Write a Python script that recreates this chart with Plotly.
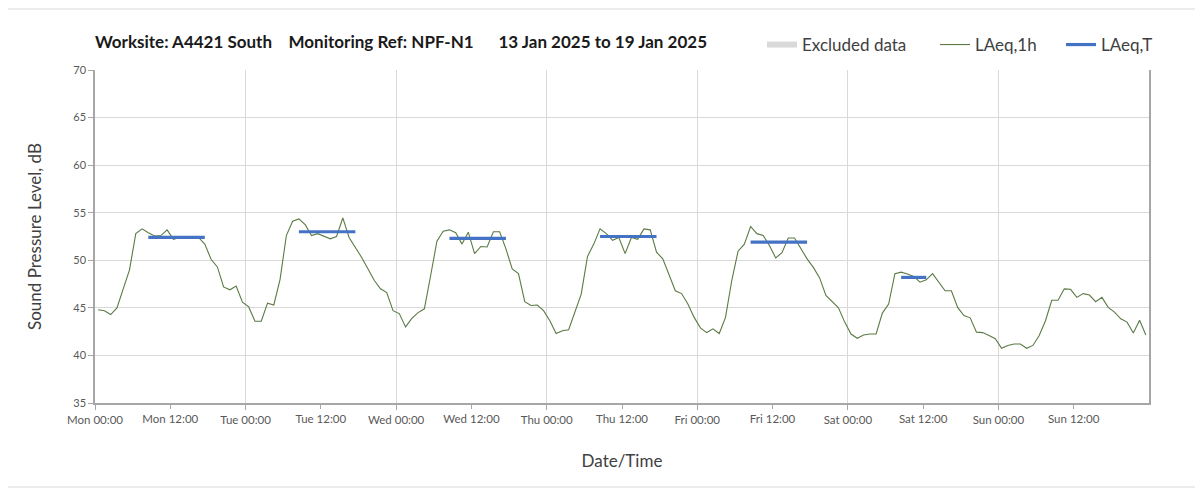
import pandas as pd
import plotly.graph_objects as go

# hourly LAeq,1h values (dB) read per day, Mon 13 Jan to Sun 19 Jan 2025
mon = [44.8, 44.7, 44.3, 45.0, 47.0, 49.0, 52.8, 53.3, 52.9, 52.55, 52.6, 53.2,
       52.2, 52.4, 52.4, 52.4, 52.4, 51.7, 50.1, 49.3, 47.2, 46.9, 47.3, 45.6]
tue = [45.1, 43.6, 43.6, 45.5, 45.3, 48.0, 52.6, 54.1, 54.35, 53.75, 52.6, 52.8,
       52.5, 52.25, 52.5, 54.45, 52.4, 51.4, 50.3, 49.1, 47.9, 47.0, 46.6, 44.7]
wed = [44.4, 43.0, 43.9, 44.5, 44.9, 48.4, 52.0, 53.05, 53.2, 52.9, 51.7, 52.95,
       50.7, 51.45, 51.4, 53.0, 53.0, 51.2, 49.1, 48.6, 45.65, 45.25, 45.3, 44.7]
thu = [43.65, 42.3, 42.6, 42.7, 44.55, 46.45, 50.4, 51.7, 53.3, 52.8, 52.1, 52.4,
       50.7, 52.4, 52.2, 53.3, 53.2, 50.85, 50.15, 48.4, 46.8, 46.5, 45.4, 44.0]
fri = [42.9, 42.4, 42.8, 42.3, 44.0, 47.9, 50.95, 51.7, 53.55, 52.8, 52.6, 51.55,
       50.25, 50.8, 52.35, 52.35, 51.2, 50.15, 49.25, 48.15, 46.3, 45.6, 45.0, 43.5]
sat = [42.25, 41.8, 42.15, 42.25, 42.25, 44.45, 45.4, 48.6, 48.75, 48.55, 48.3, 47.7,
       47.95, 48.6, 47.7, 46.8, 46.8, 45.05, 44.2, 43.95, 42.45, 42.4, 42.1, 41.75]
sun = [40.75, 41.05, 41.2, 41.2, 40.75, 41.05, 42.1, 43.65, 45.8, 45.8, 47.0, 46.95,
       46.1, 46.5, 46.35, 45.65, 46.1, 45.05, 44.55, 43.85, 43.5, 42.35, 43.7, 42.15]

# LAeq,T per day over the measured period (first and last hourly slot of the day)
laeqt_days = ['2025-01-13', '2025-01-14', '2025-01-15', '2025-01-16', '2025-01-17', '2025-01-18']
laeqt_values = [52.4, 53.0, 52.3, 52.5, 51.9, 48.2]
laeqt_first_hour = [8, 8, 8, 8, 8, 8]
laeqt_last_hour = [17, 17, 17, 17, 17, 12]

title_text = ('Worksite: A4421 South\u00a0\u00a0\u00a0\u00a0Monitoring Ref: NPF-N1'
              '\u00a0\u00a0\u00a0\u00a0\u00a0\u00a013 Jan 2025 to 19 Jan 2025')

laeq_1h = mon + tue + wed + thu + fri + sat + sun
# hourly values plotted mid-slot like the category axis of the original
times = pd.date_range('2025-01-13 00:30', periods=len(laeq_1h), freq='h')
day_starts = pd.date_range('2025-01-13', periods=7, freq='D')
noons = day_starts + pd.Timedelta(hours=12)

tx, ty = [], []
for day, val, h0, h1 in zip(laeqt_days, laeqt_values, laeqt_first_hour, laeqt_last_hour):
    d = pd.Timestamp(day)
    tx += [d + pd.Timedelta(hours=h0 + 0.5), d + pd.Timedelta(hours=h1 + 0.5), None]
    ty += [val, val, None]

font = 'Lato, "Open Sans", sans-serif'
grey_txt = '#595959'
OFF = 8  # page body margin
L, T, W, H = 95 - OFF, 70 - OFF, 1054, 333  # plot box in px


def px_x(p):
    return (p - OFF - L) / W


def px_y(p):
    return (T + H - (p - OFF)) / H


fig = go.Figure()

fig.add_trace(go.Scatter(x=[None], y=[None], name='Excluded data', mode='none',
                         fill='toself', fillcolor='#d9d9d9', legend='legend'))
fig.add_trace(go.Scatter(x=times, y=laeq_1h, mode='lines', name='LAeq,1h',
                         line=dict(color='#5b7a45', width=1.1), legend='legend2'))
fig.add_trace(go.Scatter(x=tx, y=ty, mode='lines', name='LAeq,T', xaxis='x2',
                         line=dict(color='#4472c4', width=3.2), legend='legend3'))

leg = dict(orientation='h', xanchor='left', y=px_y(45), yanchor='middle',
           font=dict(size=17, color='#404040'), bgcolor='rgba(0,0,0,0)')

fig.update_layout(
    width=1203, height=490,
    margin=dict(l=L, r=1203 - L - W, t=T, b=490 - T - H, autoexpand=False),
    paper_bgcolor='white', plot_bgcolor='white',
    font=dict(family=font, color='#404040'),
    title=dict(text='<b>' + title_text + '</b>', x=L / 1203, xanchor='left',
               y=1 - (42 - OFF) / 490, yanchor='middle',
               font=dict(size=17, color='#1a1a1a', family=font)),
    legend=dict(leg, x=px_x(762)),
    legend2=dict(leg, x=px_x(935)),
    legend3=dict(leg, x=px_x(1061)),
    showlegend=True,
    xaxis=dict(type='date', range=['2025-01-13', '2025-01-20'], automargin=False,
               tickmode='array', tickvals=day_starts, tickformat='%a %H:%M',
               showgrid=True, gridcolor='#d9d9d9', gridwidth=1,
               showline=True, linecolor='#a6a6a6', linewidth=1.5,
               ticks='outside', ticklen=5, tickcolor='#a6a6a6',
               tickfont=dict(size=11.5, color=grey_txt), zeroline=False,
               title=dict(text='Date/Time', standoff=31,
                          font=dict(size=17, color='#404040'))),
    xaxis2=dict(type='date', overlaying='x', matches='x', anchor='y', side='bottom',
                automargin=False, tickmode='array', tickvals=noons,
                tickformat='%a %H:%M', showgrid=False, ticks='outside', ticklen=5,
                tickcolor='#a6a6a6', tickfont=dict(size=11.5, color=grey_txt)),
    yaxis=dict(range=[35, 70], dtick=5, showgrid=True, gridcolor='#d9d9d9', gridwidth=1,
               showline=True, mirror=True, linecolor='#a6a6a6', linewidth=1.5,
               ticks='outside', ticklen=5, tickcolor='#a6a6a6', zeroline=False,
               automargin=False, tickfont=dict(size=11, color=grey_txt),
               title=dict(text='Sound Pressure Level, dB', standoff=27,
                          font=dict(size=17, color='#404040'))),
    shapes=[dict(type='rect', xref='paper', yref='paper',
                 x0=px_x(5), x1=px_x(1197), y0=px_y(487), y1=px_y(9),
                 line=dict(color='#d9d9d9', width=1), layer='below')],
)

fig.write_html('out.html')
